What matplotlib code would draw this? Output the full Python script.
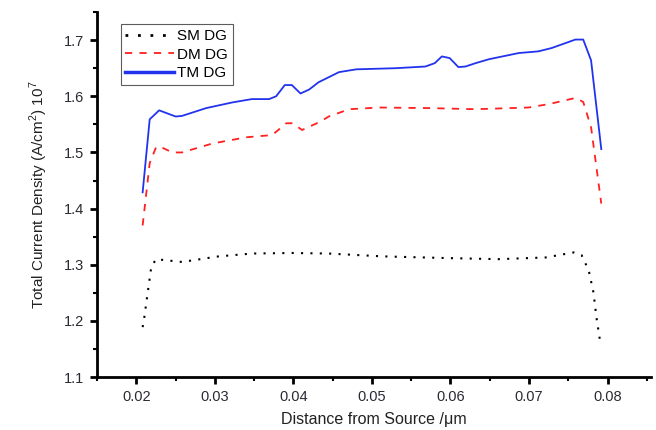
import matplotlib
matplotlib.use("Agg")
from matplotlib import pyplot as plt
from matplotlib.ticker import MultipleLocator

plt.rcParams["font.family"] = ["Liberation Sans", "DejaVu Sans"]
plt.rcParams["mathtext.fontset"] = "custom"
plt.rcParams["mathtext.rm"] = "Liberation Sans"

# TM DG (blue solid)
tm_x = [0.0208, 0.0217, 0.0229, 0.0250, 0.0258, 0.0289, 0.0322, 0.0347, 0.0369, 0.0378,
        0.0389, 0.0398, 0.0409, 0.0420, 0.0432, 0.0445, 0.0458, 0.0480, 0.0530, 0.0568,
        0.0580, 0.0589, 0.0599, 0.0610, 0.0619, 0.0632, 0.0649, 0.0687, 0.0712, 0.0729,
        0.0759, 0.0769, 0.0779, 0.0792]
tm_y = [1.429, 1.559, 1.575, 1.564, 1.565, 1.579, 1.589, 1.595, 1.595, 1.600,
        1.620, 1.620, 1.605, 1.612, 1.625, 1.634, 1.643, 1.648, 1.650, 1.653,
        1.659, 1.671, 1.668, 1.652, 1.653, 1.659, 1.666, 1.677, 1.680, 1.686,
        1.701, 1.701, 1.664, 1.506]

# DM DG (red dashed)
dm_x = [0.0208, 0.0217, 0.0225, 0.0229, 0.0246, 0.0258, 0.0297, 0.0340, 0.0373, 0.0391,
        0.0399, 0.0411, 0.0433, 0.0445, 0.0471, 0.0509, 0.0572, 0.0632, 0.0699, 0.0725,
        0.0759, 0.0769, 0.0779, 0.0792]
dm_y = [1.370, 1.481, 1.509, 1.511, 1.500, 1.500, 1.516, 1.527, 1.531, 1.552,
        1.552, 1.540, 1.554, 1.564, 1.577, 1.580, 1.579, 1.577, 1.580, 1.586,
        1.597, 1.590, 1.545, 1.409]

# SM DG (black dotted)
sm_x = [0.0208, 0.0210, 0.0214, 0.0219, 0.0225, 0.0258, 0.0305, 0.0347, 0.0398, 0.0445,
        0.0513, 0.0594, 0.0661, 0.0721, 0.0757, 0.0767, 0.0776, 0.0782, 0.0786, 0.0791]
sm_y = [1.189, 1.205, 1.246, 1.296, 1.310, 1.305, 1.315, 1.320, 1.321, 1.320,
        1.315, 1.312, 1.310, 1.313, 1.322, 1.317, 1.290, 1.251, 1.205, 1.159]

x_ticks = [0.02, 0.03, 0.04, 0.05, 0.06, 0.07, 0.08]
y_ticks = [1.1, 1.2, 1.3, 1.4, 1.5, 1.6, 1.7]

fig = plt.figure(figsize=(6.56, 4.30), dpi=100)
ax = fig.add_axes([0.148, 0.123, 0.844, 0.849])

ax.plot(sm_x, sm_y, color="black", linestyle=(0, (1, 3.5)), linewidth=1.5, label="SM DG")
ax.plot(dm_x, dm_y, color="#ff2020", linestyle=(0, (4, 4)), linewidth=1.3, label="DM DG")
ax.plot(tm_x, tm_y, color="#2233ee", linestyle="-", linewidth=1.3, label="TM DG")

ax.set_xlim(0.015, 0.0855)
ax.set_ylim(1.1, 1.75)
ax.set_xticks(x_ticks)
ax.set_xticklabels(["%.2f" % v for v in x_ticks])
ax.set_yticks(y_ticks)
ax.set_yticklabels(["%.1f" % v for v in y_ticks])
ax.xaxis.set_minor_locator(MultipleLocator(0.005))
ax.yaxis.set_minor_locator(MultipleLocator(0.05))

for side in ["top", "right"]:
    ax.spines[side].set_visible(False)
for side in ["left", "bottom"]:
    ax.spines[side].set_linewidth(2)

ax.tick_params(which="major", direction="out", length=5, width=2, labelsize=10.5,
               labelcolor="#2a2a33", pad=4)
ax.tick_params(which="minor", direction="out", length=3, width=1.5)

ax.set_xlabel("Distance from Source /\u03bcm", fontsize=11.5, color="#222222", labelpad=6)
ax.set_ylabel(r"Total Current Density (A/cm$^{2}$) 10$^{7}$", fontsize=11, color="#222222",
              labelpad=10)

leg = ax.legend(loc="upper left", bbox_to_anchor=(0.043, 0.966), fontsize=11,
                frameon=True, fancybox=False, borderaxespad=0, handlelength=3.2,
                handletextpad=0.2, labelspacing=0.3, borderpad=0.3)
leg.get_frame().set_edgecolor("#333333")
leg.get_frame().set_linewidth(0.8)
leg.get_lines()[2].set_linewidth(2.5)
leg.get_lines()[0].set_linewidth(2)

fig.savefig("out.png", dpi=100)
